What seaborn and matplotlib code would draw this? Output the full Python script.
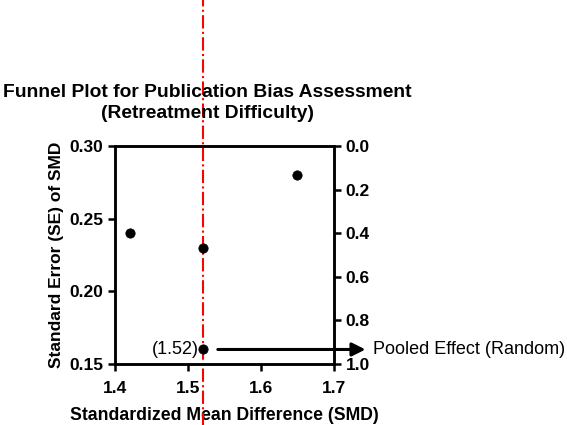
import seaborn as sns
import matplotlib.pyplot as plt
import pandas as pd

# study estimates
smd = [1.42, 1.52, 1.65, 1.52]
se = [0.24, 0.23, 0.28, 0.16]
pooled_smd = 1.52
pooled_se = 0.16

x_ticks = [1.4, 1.5, 1.6, 1.7]
y_ticks = [0.15, 0.20, 0.25, 0.30]
right_ticks = [0.0, 0.2, 0.4, 0.6, 0.8, 1.0]

sns.set_style("ticks")
plt.rcParams["font.family"] = ["Liberation Sans", "DejaVu Sans"]
plt.rcParams["text.color"] = "black"

df = pd.DataFrame({"SMD": smd, "SE": se})

fig = plt.figure(figsize=(5.67, 4.25), dpi=100)
ax = fig.add_axes([0.203, 0.1435, 0.386, 0.513])

sns.scatterplot(data=df, x="SMD", y="SE", color="black", s=45,
                edgecolor="black", zorder=3, ax=ax)

ax.set_xlim(1.4, 1.7)
ax.set_ylim(0.15, 0.30)
ax.set_xticks(x_ticks)
ax.set_yticks(y_ticks)
ax.set_xticklabels([f"{v:.1f}" for v in x_ticks], fontweight="bold", fontsize=12.5)
ax.set_yticklabels([f"{v:.2f}" for v in y_ticks], fontweight="bold", fontsize=12.5)
ax.set_xlabel("Standardized Mean Difference (SMD)", fontweight="bold", fontsize=12.7,
              labelpad=8, color="black")
ax.set_ylabel("Standard Error (SE) of SMD", fontweight="bold", fontsize=12.5,
              labelpad=4, color="black")

ax2 = ax.twinx()
ax2.set_ylim(1.0, 0.0)
ax2.set_yticks(right_ticks)
ax2.set_yticklabels([f"{v:.1f}" for v in right_ticks], fontweight="bold", fontsize=12.5)

for a in (ax, ax2):
    for sp in a.spines.values():
        sp.set_visible(True)
        sp.set_linewidth(1.8)
        sp.set_color("black")
    a.tick_params(width=1.8, length=5, direction="out", colors="black", labelcolor="black")
ax.tick_params(axis="x", top=False, pad=7)

# pooled effect line through the full figure
ax.axvline(pooled_smd, ymin=-0.35, ymax=1.75, color="red", linestyle="-.",
           linewidth=1.5, clip_on=False, zorder=1)

ax.text(pooled_smd - 0.005, pooled_se, "(1.52)", ha="right", va="center", fontsize=13)
ax.annotate("", xy=(1.747, pooled_se), xytext=(1.537, pooled_se),
            arrowprops=dict(arrowstyle="-|>", color="black", lw=2.2, mutation_scale=20),
            annotation_clip=False)
ax.text(1.753, pooled_se, "Pooled Effect (Random)", ha="left", va="center",
        fontsize=13, clip_on=False)

fig.text(0.366, 0.713, "Funnel Plot for Publication Bias Assessment\n(Retreatment Difficulty)",
         ha="center", va="bottom", fontweight="bold", fontsize=13.9, linespacing=1.3)

fig.savefig("out.png", dpi=100)
